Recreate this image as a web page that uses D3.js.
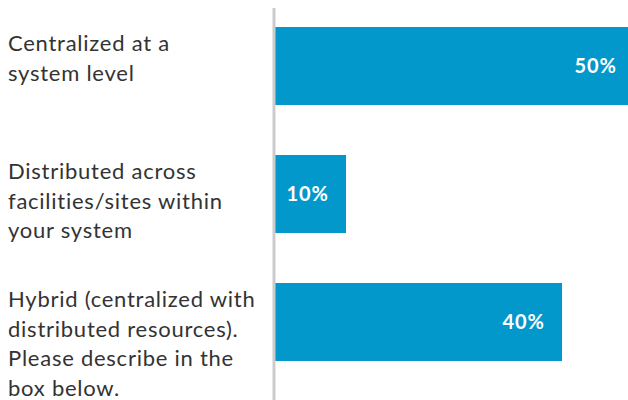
<!DOCTYPE html>
<html>
<head>
<meta charset="utf-8">
<script src="https://cdn.jsdelivr.net/npm/d3@7"></script>
<style>
  html, body { margin: 0; padding: 0; background: #fff; }
  svg { display: block; }
</style>
</head>
<body>
<svg id="chart" width="628" height="400"></svg>
<script>
const categories = [
  "Centralized at a system level",
  "Distributed across facilities/sites within your system",
  "Hybrid (centralized with distributed resources). Please describe in the box below."
];
const labelLines = [
  ["Centralized at a", "system level"],
  ["Distributed across", "facilities/sites within", "your system"],
  ["Hybrid (centralized with", "distributed resources).", "Please describe in the", "box below."]
];
const values = [50, 10, 40];
const valueLabels = ["50%", "10%", "40%"];

const svg = d3.select("#chart");
const W = 628, H = 400;
const axisX = 274;

const x = d3.scaleLinear().domain([0, 50]).range([axisX, 634]);
const y = d3.scaleBand().domain(categories).range([27, 361]).paddingInner(0.390625).paddingOuter(0);

const data = categories.map((c, i) => ({ c, v: values[i], lab: valueLabels[i], lines: labelLines[i] }));

// bars
svg.append("g").selectAll("rect").data(data).join("rect")
  .attr("x", x(0))
  .attr("y", d => y(d.c))
  .attr("width", d => x(d.v) - x(0))
  .attr("height", y.bandwidth())
  .attr("fill", "#0398cc");

// axis line
svg.append("line")
  .attr("x1", axisX).attr("x2", axisX)
  .attr("y1", 8).attr("y2", H)
  .attr("stroke", "#cccccc").attr("stroke-width", 3);

// category labels
const lab = svg.append("g").selectAll("text").data(data).join("text")
  .attr("x", 8)
  .attr("y", d => y(d.c) + 24)
  .attr("fill", "#333333")
  .style("font-family", "Lato, 'Open Sans', sans-serif")
  .style("font-size", "22px")
  .style("letter-spacing", "0.75px");
lab.selectAll("tspan").data(d => d.lines).join("tspan")
  .attr("x", 8)
  .attr("dy", (d, i) => i === 0 ? 0 : 29.7)
  .text(d => d);

// value labels
svg.append("g").selectAll("text").data(data).join("text")
  .attr("x", d => x(d.v) - 17)
  .attr("y", d => y(d.c) + y.bandwidth() / 2)
  .attr("dy", "0.36em")
  .attr("text-anchor", "end")
  .attr("fill", "#ffffff")
  .style("font-family", "Lato, sans-serif")
  .style("font-weight", "700")
  .style("font-size", "20px")
  .style("letter-spacing", "1px")
  .text(d => d.lab);
</script>
</body>
</html>
